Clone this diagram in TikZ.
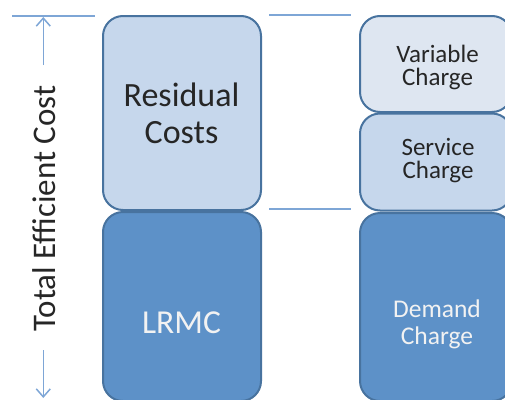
\documentclass[tikz,border=0pt]{standalone}
\usepackage{fontspec}
\setmainfont{Carlito}
\usetikzlibrary{arrows.meta}
\definecolor{borderblue}{HTML}{48739F}
\definecolor{darkfill}{HTML}{5D91C8}
\definecolor{midfill}{HTML}{C6D7EC}
\definecolor{palefill}{HTML}{DEE6F1}
\definecolor{guideblue}{HTML}{7EA6D6}
\definecolor{darktext}{HTML}{262626}
\definecolor{lighttext}{HTML}{F2F2F2}
\tikzset{
  box/.style={draw=borderblue, line width=2pt, rounded corners=20pt, inner sep=0pt},
  bigdark/.style={anchor=base, inner sep=0pt, text=darktext, font=\fontsize{34}{37}\selectfont},
  biglight/.style={anchor=base, inner sep=0pt, text=lighttext, font=\fontsize{33.5}{37}\selectfont},
  smalldark/.style={anchor=base, inner sep=0pt, align=center, text=darktext, font=\fontsize{25}{23}\selectfont},
  smalllight/.style={anchor=base, inner sep=0pt, align=center, text=lighttext, font=\fontsize{25.5}{27}\selectfont},
  guide/.style={draw=guideblue, line width=1.5pt},
  dimarrow/.style={draw=guideblue, line width=1.5pt, -{Straight Barb[length=8pt,width=14pt,line width=1.5pt]}}
}
\begin{document}
\begin{tikzpicture}[x=1pt,y=-1pt]
\useasboundingbox (0,0) rectangle (505,399);
\clip (0,0) rectangle (505,399);
% left column
\node[box, fill=midfill, minimum width=158pt, minimum height=194pt] (resid) at (182,113) {};
\node[box, fill=darkfill, minimum width=158pt, minimum height=189pt] (lrmc) at (182,306.5) {};
% right column
\node[box, fill=palefill, minimum width=152pt, minimum height=96pt] (var) at (436,64) {};
\node[box, fill=midfill, minimum width=152pt, minimum height=97pt] (serv) at (436,162) {};
\node[box, fill=darkfill, minimum width=152pt, minimum height=188pt] (dem) at (436,307) {};
% texts
\node[bigdark] (residA) at (181.5,106) {Residual};
\node[bigdark] (residB) at (181.5,143) {Costs};
\node[biglight] (lrmcT) at (181.5,333) {LRMC};
\node[smalldark] (varT) at (437.5,85) {Variable\\Charge};
\node[smalldark] (servT) at (438,178) {Service\\Charge};
\node[smalllight] (demT) at (437,344) {Demand\\Charge};
% vertical label
\node[rotate=90, anchor=base, inner sep=0pt, text=darktext, font=\fontsize{33}{37}\selectfont] (tec) at (55,208.5) {Total Efficient Cost};
% guide lines
\coordinate (gl1) at (12,16);
\coordinate (gl2) at (95,16);
\coordinate (gm1) at (269,15);
\coordinate (gm2) at (351,15);
\coordinate (gb1) at (269,209);
\coordinate (gb2) at (351,209);
\draw[guide] (gl1) -- (gl2);
\draw[guide] (gm1) -- (gm2);
\draw[guide] (gb1) -- (gb2);
% dimension arrows
\coordinate (atS) at (43.3,65);
\coordinate (atE) at (43.3,17);
\coordinate (abS) at (43.3,350);
\coordinate (abE) at (43.3,398);
\draw[dimarrow] (atS) -- (atE);
\draw[dimarrow] (abS) -- (abE);
\end{tikzpicture}
\end{document}
